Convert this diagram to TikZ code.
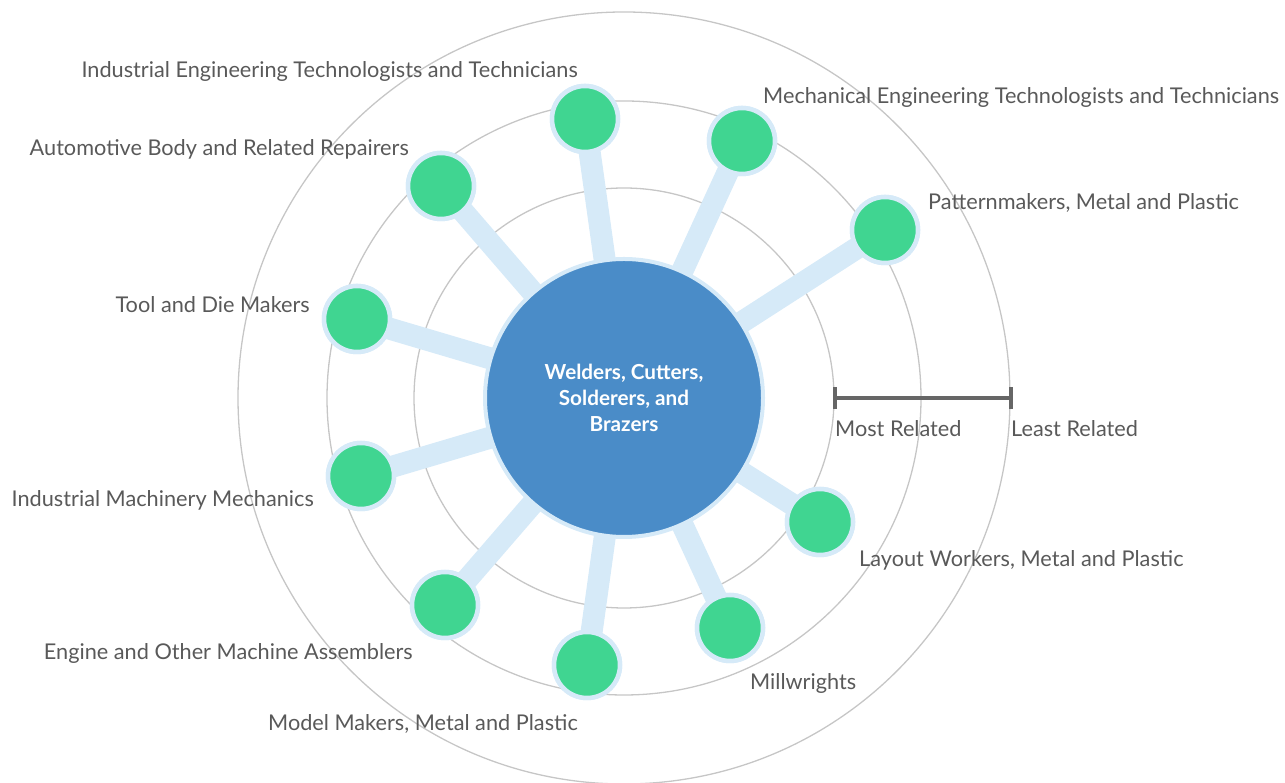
\documentclass[tikz,border=0pt]{standalone}
\usepackage{fontspec}
\setmainfont{Lato}
\definecolor{ringgray}{HTML}{C6C6C6}
\definecolor{linkblue}{HTML}{D6EAF8}
\definecolor{nodegreen}{HTML}{40D591}
\definecolor{centerblue}{HTML}{4A8CC8}
\definecolor{labelgray}{HTML}{595959}
\definecolor{bargray}{HTML}{666666}
\begin{document}
\begin{tikzpicture}[x=1pt,y=1pt,
  ring/.style={draw=ringgray,line width=1.3pt},
  link/.style={draw=linkblue,line width=22pt},
  job/.style={circle,fill=nodegreen,draw=linkblue,line width=4.5pt,minimum size=66pt,inner sep=0pt},
  hub/.style={circle,fill=centerblue,draw=linkblue,line width=4pt,minimum size=278pt,inner sep=0pt,
    text=white,font=\fontsize{20.7}{26}\selectfont\bfseries,align=center},
  lbl/.style={text=labelgray,font=\fontsize{21.7}{25}\selectfont,inner sep=0pt}]
\useasboundingbox (0,0) rectangle (1285,783);
% rings
\coordinate (c) at (624,385);
\draw[ring] (c) circle (386);
\draw[ring] (c) circle (297);
\draw[ring] (c) circle (210);
% job nodes
\node[job] (n1) at (585,664) {};
\node[job] (n2) at (742,642) {};
\node[job] (n3) at (885,553) {};
\node[job] (n4) at (441,597) {};
\node[job] (n5) at (357,464) {};
\node[job] (n6) at (361,307) {};
\node[job] (n7) at (445,178) {};
\node[job] (n8) at (587,118) {};
\node[job] (n9) at (730,155) {};
\node[job] (n10) at (820,261) {};
% links
\foreach \n in {n1,n2,n3,n4,n5,n6,n7,n8,n9,n10}{
  \draw[link] (c) -- (\n.center);
}
% redraw nodes on top of links
\foreach \n in {n1,n2,n3,n4,n5,n6,n7,n8,n9,n10}{
  \node[job] at (\n) {};
}
\node[hub] (hub) at (c) {Welders, Cutters,\\Solderers, and\\Brazers};
% labels
\node[lbl,anchor=east] (l1) at (578,711) {Industrial Engineering Technologists and Technicians};
\node[lbl,anchor=west] (l2) at (763,685) {Mechanical Engineering Technologists and Technicians};
\node[lbl,anchor=west] (l3) at (928,580) {Patternmakers, Metal and Plastic};
\node[lbl,anchor=east] (l4) at (409,634) {Automotive Body and Related Repairers};
\node[lbl,anchor=east] (l5) at (310,478) {Tool and Die Makers};
\node[lbl,anchor=east] (l6) at (314,283) {Industrial Machinery Mechanics};
\node[lbl,anchor=east] (l7) at (413,130) {Engine and Other Machine Assemblers};
\node[lbl,anchor=east] (l8) at (578,59) {Model Makers, Metal and Plastic};
\node[lbl,anchor=west] (l9) at (750,100) {Millwrights};
\node[lbl,anchor=west] (l10) at (859,223) {Layout Workers, Metal and Plastic};
% scale bar
\coordinate (b1) at (835,385);
\coordinate (b2) at (1011,385);
\draw[bargray,line width=4pt] (b1) -- (b2);
\draw[bargray,line width=4pt] ([yshift=-11pt]b1) -- ([yshift=11pt]b1);
\draw[bargray,line width=4pt] ([yshift=-11pt]b2) -- ([yshift=11pt]b2);
\node[lbl,anchor=west] (most) at (835,354) {Most Related};
\node[lbl,anchor=west] (least) at (1011,354) {Least Related};
\end{tikzpicture}
\end{document}
